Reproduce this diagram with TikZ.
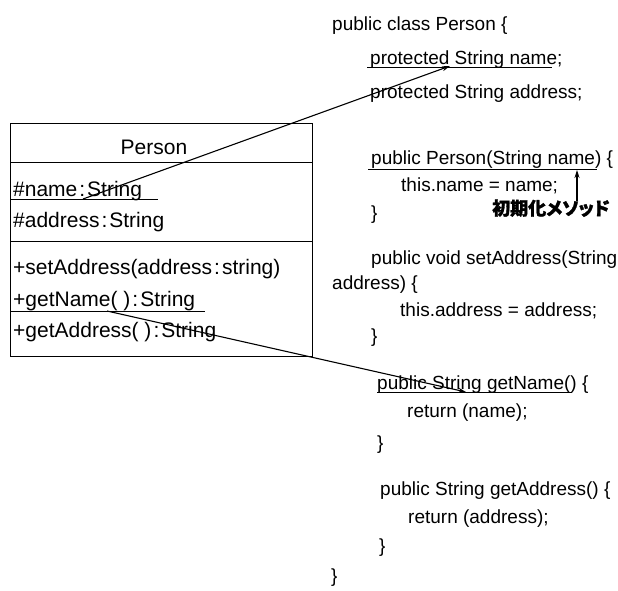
\documentclass[tikz,border=0pt]{standalone}
\usepackage{fontspec}
\setmainfont{Liberation Sans}
\newfontfamily\cjk[RawFeature=+palt, BoldFeatures={FakeBold=1.5}]{Noto Sans CJK JP}
\usetikzlibrary{arrows.meta}
\newcommand{\umlcolon}{\hspace{2pt}:\hspace{2pt}}
\begin{document}
\begin{tikzpicture}[x=1pt,y=-1pt,
  code/.style={anchor=base west, inner sep=0pt, font=\fontsize{19}{22}\selectfont},
  uml/.style={anchor=base west, inner sep=0pt, font=\fontsize{21}{24}\selectfont},
  note/.style={anchor=base west, inner sep=0pt, font=\cjk\bfseries\fontsize{18}{20}\selectfont},
  frame/.style={line width=0.9pt},
  uline/.style={line width=0.9pt},
  link/.style={line width=1.1pt, -{Stealth[length=8pt,width=5pt]}}]
\useasboundingbox (0,0) rectangle (618,591);
\fill[white] (0,0) rectangle (618,591);

% ---- UML class box ----
\node[draw, frame, anchor=north west, inner sep=0pt, minimum width=302pt, minimum height=233pt] (cls) at (10,123) {};
\draw[frame] (10,162) -- (312,162);
\draw[frame] (10,241) -- (312,241);
\node[uml, anchor=base] (cname) at (154,154) {Person};
\node[uml] (aname) at (13,196) {\#name\umlcolon String};
\node[uml] (aaddr) at (13,227) {\#address\umlcolon String};
\node[uml] (mset) at (13,274) {+setAddress(address\umlcolon string)};
\node[uml] (mgetn) at (13,306) {+getName( )\umlcolon String};
\node[uml] (mgeta) at (13,337) {+getAddress( )\umlcolon String};
\draw[uline] (10,199) -- (158,199);
\draw[uline] (10,311) -- (205,311);

% ---- Java code ----
\node[code] (c1) at (332,31) {public class Person \{};
\node[code] (c2) at (370,65) {protected String name;};
\node[code] (c3) at (370,99) {protected String address;};
\node[code] (c4) at (371,164) {public Person(String name) \{};
\node[code] (c5) at (401,191) {this.name = name;};
\node[code] (c6) at (371,219) {\}};
\node[code] (c7) at (371,264) {public void setAddress(String};
\node[code] (c8) at (332,289) {address) \{};
\node[code] (c9) at (400,316) {this.address = address;};
\node[code] (c10) at (371,342) {\}};
\node[code] (c11) at (377,389) {public String getName() \{};
\node[code] (c12) at (407,417) {return (name);};
\node[code] (c13) at (377,449) {\}};
\node[code] (c14) at (380,495) {public String getAddress() \{};
\node[code] (c15) at (408,523) {return (address);};
\node[code] (c16) at (379,552) {\}};
\node[code] (c17) at (331,582) {\}};
\draw[uline] (367,67) -- (552,67);
\draw[uline] (368,169) -- (597,169);
\draw[uline] (377,392) -- (572,392);

% ---- note ----
\node[note] (init) at (492,215) {初期化メソッド};
\coordinate (initTop) at (577,201);
\coordinate (initTip) at (577,170);
\draw[link] (initTop) -- (initTip);

% ---- connectors ----
\coordinate (nameFrom) at (83,199);
\coordinate (nameTo) at (450,66);
\draw[link] (nameFrom) -- (nameTo);
\coordinate (getnFrom) at (107,311);
\coordinate (getnTo) at (466,392);
\draw[link] (getnFrom) -- (getnTo);
\end{tikzpicture}
\end{document}
